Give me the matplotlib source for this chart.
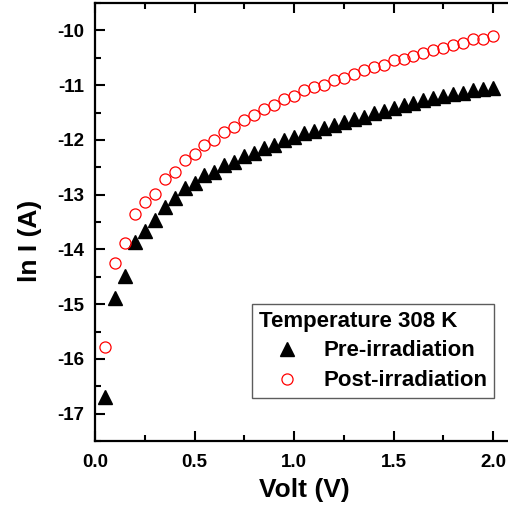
import matplotlib
matplotlib.use("Agg")
import matplotlib.pyplot as plt
from matplotlib.ticker import MultipleLocator, FormatStrFormatter

plt.rcParams['font.family'] = ['Liberation Sans', 'DejaVu Sans']
plt.rcParams['font.weight'] = 'bold'
plt.rcParams['axes.unicode_minus'] = False

volt = [0.05, 0.10, 0.15, 0.20, 0.25, 0.30, 0.35, 0.40, 0.45, 0.50,
        0.55, 0.60, 0.65, 0.70, 0.75, 0.80, 0.85, 0.90, 0.95, 1.00,
        1.05, 1.10, 1.15, 1.20, 1.25, 1.30, 1.35, 1.40, 1.45, 1.50,
        1.55, 1.60, 1.65, 1.70, 1.75, 1.80, 1.85, 1.90, 1.95, 2.00]

pre_irr = [-16.70, -14.89, -14.49, -13.86, -13.66, -13.46, -13.22, -13.06, -12.87, -12.78,
           -12.64, -12.58, -12.45, -12.41, -12.30, -12.24, -12.15, -12.09, -12.00, -11.94,
           -11.87, -11.84, -11.78, -11.72, -11.68, -11.62, -11.58, -11.51, -11.47, -11.42,
           -11.37, -11.32, -11.28, -11.23, -11.20, -11.16, -11.14, -11.09, -11.07, -11.05]

post_irr = [-15.79, -14.25, -13.88, -13.35, -13.14, -12.99, -12.71, -12.59, -12.37, -12.26,
            -12.09, -12.00, -11.85, -11.76, -11.63, -11.55, -11.43, -11.37, -11.25, -11.19,
            -11.09, -11.03, -11.00, -10.90, -10.87, -10.79, -10.73, -10.66, -10.63, -10.55,
            -10.52, -10.46, -10.41, -10.35, -10.33, -10.26, -10.23, -10.16, -10.15, -10.10]

fig = plt.figure(figsize=(5.08, 5.09), dpi=100)
ax = fig.add_axes([95/508, 68/509, 418/508, 438/509])

ax.plot(volt, pre_irr, linestyle='none', marker='^', markersize=9.5,
        color='black', label='Pre-irradiation')
ax.plot(volt, post_irr, linestyle='none', marker='o', markersize=8,
        markerfacecolor='none', markeredgecolor='red', markeredgewidth=0.9,
        label='Post-irradiation')

ax.set_xlim(0, 2.1)
ax.set_ylim(-17.5, -9.5)
ax.xaxis.set_major_locator(MultipleLocator(0.5))
ax.xaxis.set_minor_locator(MultipleLocator(0.25))
ax.yaxis.set_major_locator(MultipleLocator(1))
ax.yaxis.set_minor_locator(MultipleLocator(0.5))
ax.xaxis.set_major_formatter(FormatStrFormatter('%.1f'))

ax.tick_params(which='both', direction='in', top=True, right=False, width=1.5,
               labelsize=13.5)
ax.tick_params(axis='x', which='major', pad=9.5)
ax.tick_params(axis='y', which='major', pad=8)
ax.tick_params(which='major', length=7)
ax.tick_params(which='minor', length=4)
for sp in ax.spines.values():
    sp.set_linewidth(1.6)

ax.set_xlabel('Volt (V)', fontsize=19, fontweight='bold')
ax.set_ylabel('ln I (A)', fontsize=19, fontweight='bold')
ax.xaxis.set_label_coords(0.5, -0.085)
ax.yaxis.set_label_coords(-0.127, 0.457)

leg = ax.legend(title='Temperature 308 K', loc='upper right',
                bbox_to_anchor=(0.955, 0.313), borderaxespad=0,
                fontsize=16, title_fontproperties={'weight': 'bold', 'size': 16},
                frameon=True, fancybox=False, edgecolor='#333333',
                handlelength=2.5, handletextpad=0.4, borderpad=0.3,
                labelspacing=0.4)
leg._legend_box.align = 'left'
leg.get_frame().set_linewidth(1.0)

fig.savefig('out.png', dpi=100)
